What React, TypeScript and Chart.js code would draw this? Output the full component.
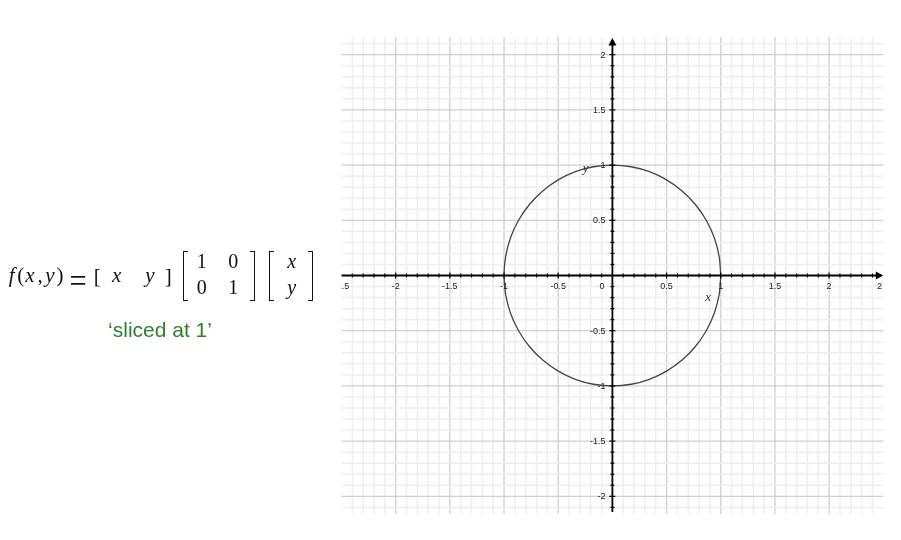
import React, { useEffect, useRef } from "react";
import { Chart, registerables } from "chart.js";

Chart.register(...registerables);

// ---- data ----
const xMin = -2.5;
const xMax = 2.5;
const yMin = -2.16;
const yMax = 2.16;

const circleX = [1, 0.985, 0.94, 0.866, 0.766, 0.643, 0.5, 0.342, 0.174, 0, -0.174, -0.342, -0.5, -0.643, -0.766, -0.866, -0.94, -0.985, -1, -0.985, -0.94, -0.866, -0.766, -0.643, -0.5, -0.342, -0.174, 0, 0.174, 0.342, 0.5, 0.643, 0.766, 0.866, 0.94, 0.985, 1];
const circleY = [0, 0.174, 0.342, 0.5, 0.643, 0.766, 0.866, 0.94, 0.985, 1, 0.985, 0.94, 0.866, 0.766, 0.643, 0.5, 0.342, 0.174, 0, -0.174, -0.342, -0.5, -0.643, -0.766, -0.866, -0.94, -0.985, -1, -0.985, -0.94, -0.866, -0.766, -0.643, -0.5, -0.342, -0.174, 0];

const xTickValues = [-2.5, -2, -1.5, -1, -0.5, 0.5, 1, 1.5, 2, 2.5];
const xTickLabels = ["-2.5", "-2", "-1.5", "-1", "-0.5", "0.5", "1", "1.5", "2", "2.5"];
const yTickValues = [-2, -1.5, -1, -0.5, 0.5, 1, 1.5, 2];
const yTickLabels = ["-2", "-1.5", "-1", "-0.5", "0.5", "1", "1.5", "2"];

const minorStep = 0.1;
const xGridCount = 24; // -2.4 .. 2.4
const yGridCount = 21; // -2.1 .. 2.1

const axisNameX = { x: 0.883, y: -0.204, text: "x" };
const axisNameY = { x: -0.248, y: 0.965, text: "y" };

const mathGridPlugin = {
  id: "mathGrid",
  beforeDatasetsDraw(chart: any) {
    const { ctx, chartArea: a, scales } = chart;
    const x = scales.x;
    const y = scales.y;
    ctx.save();
    for (let i = -xGridCount; i <= xGridCount; i++) {
      if (i === 0) continue;
      const major = i % 5 === 0;
      const px = x.getPixelForValue(i * minorStep);
      ctx.strokeStyle = major ? "#cfcfcf" : "#eeeeee";
      ctx.lineWidth = major ? 1.3 : 1.5;
      ctx.beginPath();
      ctx.moveTo(px, a.top);
      ctx.lineTo(px, a.bottom);
      ctx.stroke();
    }
    for (let i = -yGridCount; i <= yGridCount; i++) {
      if (i === 0) continue;
      const major = i % 5 === 0;
      const py = y.getPixelForValue(i * minorStep);
      ctx.strokeStyle = major ? "#cfcfcf" : "#eeeeee";
      ctx.lineWidth = major ? 1.3 : 1.5;
      ctx.beginPath();
      ctx.moveTo(a.left, py);
      ctx.lineTo(a.right, py);
      ctx.stroke();
    }
    ctx.restore();
  },
  afterDatasetsDraw(chart: any) {
    const { ctx, chartArea: a, scales } = chart;
    const x = scales.x;
    const y = scales.y;
    const x0 = x.getPixelForValue(0);
    const y0 = y.getPixelForValue(0);
    ctx.save();
    ctx.strokeStyle = "#000";
    ctx.fillStyle = "#000";
    ctx.lineWidth = 1.8;
    ctx.beginPath();
    ctx.moveTo(a.left, y0);
    ctx.lineTo(a.right - 5, y0);
    ctx.stroke();
    ctx.beginPath();
    ctx.moveTo(a.right, y0);
    ctx.lineTo(a.right - 7.5, y0 - 4);
    ctx.lineTo(a.right - 7.5, y0 + 4);
    ctx.closePath();
    ctx.fill();
    ctx.beginPath();
    ctx.moveTo(x0, a.bottom - 2);
    ctx.lineTo(x0, a.top + 6);
    ctx.stroke();
    ctx.beginPath();
    ctx.moveTo(x0, a.top + 1);
    ctx.lineTo(x0 - 4, a.top + 8.5);
    ctx.lineTo(x0 + 4, a.top + 8.5);
    ctx.closePath();
    ctx.fill();
    ctx.lineWidth = 1.2;
    for (let i = -xGridCount; i <= xGridCount; i++) {
      if (i === 0) continue;
      const h = i % 5 === 0 ? 3 : 2;
      const px = x.getPixelForValue(i * minorStep);
      ctx.beginPath();
      ctx.moveTo(px, y0 - h);
      ctx.lineTo(px, y0 + h);
      ctx.stroke();
    }
    for (let i = -yGridCount; i <= yGridCount; i++) {
      if (i === 0) continue;
      const h = i % 5 === 0 ? 3 : 2;
      const py = y.getPixelForValue(i * minorStep);
      ctx.beginPath();
      ctx.moveTo(x0 - h, py);
      ctx.lineTo(x0 + h, py);
      ctx.stroke();
    }
    ctx.save();
    ctx.beginPath();
    ctx.rect(a.left - 0.5, 0, a.right - a.left - 0.5, chart.height);
    ctx.clip();
    ctx.font = "9px 'Liberation Sans', Arial, sans-serif";
    ctx.fillStyle = "#1a1a1a";
    ctx.textAlign = "center";
    ctx.textBaseline = "middle";
    xTickValues.forEach((v, i) => {
      ctx.fillText(xTickLabels[i], x.getPixelForValue(v), y0 + 11.5);
    });
    ctx.textAlign = "right";
    yTickValues.forEach((v, i) => {
      ctx.fillText(yTickLabels[i], x0 - 7, y.getPixelForValue(v) + 0.5);
    });
    ctx.fillText("0", x0 - 8, y0 + 11.5);
    ctx.restore();
    ctx.font = "italic 13px 'Liberation Serif', serif";
    ctx.fillStyle = "#333";
    ctx.textAlign = "center";
    ctx.textBaseline = "middle";
    ctx.fillText(axisNameX.text, x.getPixelForValue(axisNameX.x), y.getPixelForValue(axisNameX.y));
    ctx.fillText(axisNameY.text, x.getPixelForValue(axisNameY.x), y.getPixelForValue(axisNameY.y));
    ctx.restore();
  },
};

const SERIF = "'Liberation Serif', 'Times New Roman', serif";
const SANS = "'Liberation Sans', Arial, sans-serif";

function Glyph(props: { x: number; y: number; t: string; it?: boolean; size?: number; font?: string; color?: string; asc?: number; sx?: number; sy?: number }) {
  const size = props.size ?? 20;
  const asc = props.asc ?? 0.8375;
  return (
    <span
      style={{
        position: "absolute",
        left: props.x,
        top: props.y - asc * size,
        transform: `translateX(-50%) scale(${props.sx ?? 1}, ${props.sy ?? 1})`,
        fontFamily: props.font ?? SERIF,
        fontSize: size,
        lineHeight: `${size}px`,
        fontStyle: props.it ? "italic" : "normal",
        whiteSpace: "nowrap",
        color: props.color ?? "#111",
      }}
    >
      {props.t}
    </span>
  );
}

function Bracket(props: { x: number; top: number; bottom: number; side: "l" | "r" }) {
  const w = 5;
  const common: React.CSSProperties = {
    position: "absolute",
    top: props.top,
    height: props.bottom - props.top,
    width: w,
    borderTop: "1.3px solid #111",
    borderBottom: "1.3px solid #111",
    boxSizing: "border-box",
  };
  if (props.side === "l") {
    return <div style={{ ...common, left: props.x, borderLeft: "1.3px solid #111" }} />;
  }
  return <div style={{ ...common, left: props.x - w, borderRight: "1.3px solid #111" }} />;
}

export default function App() {
  const canvasRef = useRef<HTMLCanvasElement | null>(null);

  useEffect(() => {
    const canvas = canvasRef.current;
    if (!canvas) return;
    const points = circleX.map((v, i) => ({ x: v, y: circleY[i] }));
    const chart = new Chart(canvas, {
      type: "scatter",
      data: {
        datasets: [
          {
            label: "circle",
            data: points,
            showLine: true,
            borderColor: "#444",
            borderWidth: 1.3,
            pointRadius: 0,
            tension: 0.33,
            fill: false,
          },
        ],
      },
      options: {
        animation: false,
        responsive: false,
        devicePixelRatio: 1,
        layout: { padding: { left: 341.5, right: 17.7, top: 37, bottom: 26 } },
        plugins: { legend: { display: false }, tooltip: { enabled: false } },
        scales: {
          x: { type: "linear", min: xMin, max: xMax, display: false },
          y: { type: "linear", min: yMin, max: yMax, display: false },
        },
      },
      plugins: [mathGridPlugin],
    } as any);
    return () => chart.destroy();
  }, []);

  return (
    <div style={{ position: "fixed", left: 0, top: 0, width: 901, height: 540, background: "#fff", overflow: "hidden" }}>
      <canvas ref={canvasRef} width={901} height={540} style={{ position: "absolute", left: 0, top: 0, width: 901, height: 540 }} />
      <div style={{ position: "absolute", left: 0, top: 0, width: 340, height: 540 }}>
        <Glyph x={11.7} y={283} t="f" it size={21} />
        <Glyph x={20.7} y={283} t="(" size={21} />
        <Glyph x={30} y={283} t="x" it size={21} />
        <Glyph x={40.2} y={283} t="," size={21} />
        <Glyph x={50} y={283} t="y" it size={21} />
        <Glyph x={60} y={283} t=")" size={21} />
        <Glyph x={77.5} y={289} t="=" size={21} sx={1.45} sy={1.6} />
        <Glyph x={97.3} y={284} t="[" size={21} />
        <Glyph x={116.7} y={283} t="x" it size={21} />
        <Glyph x={150} y={283} t="y" it size={21} />
        <Glyph x={168.3} y={284} t="]" size={21} />
        <Bracket x={182.5} top={250.7} bottom={301} side="l" />
        <Glyph x={201.7} y={267.3} t="1" />
        <Glyph x={233.3} y={267.3} t="0" />
        <Glyph x={201.7} y={293.3} t="0" />
        <Glyph x={233.3} y={293.3} t="1" />
        <Bracket x={254.8} top={250.7} bottom={301} side="r" />
        <Bracket x={269.3} top={250.7} bottom={301} side="l" />
        <Glyph x={291.7} y={267.3} t="x" it />
        <Glyph x={291.7} y={293.3} t="y" it />
        <Bracket x={312.5} top={250.7} bottom={301} side="r" />
        <Glyph x={160} y={337} t={"\u2018sliced at 1\u2019"} font={SANS} size={21} asc={0.8465} color="#2f7f2f" />
      </div>
    </div>
  );
}
